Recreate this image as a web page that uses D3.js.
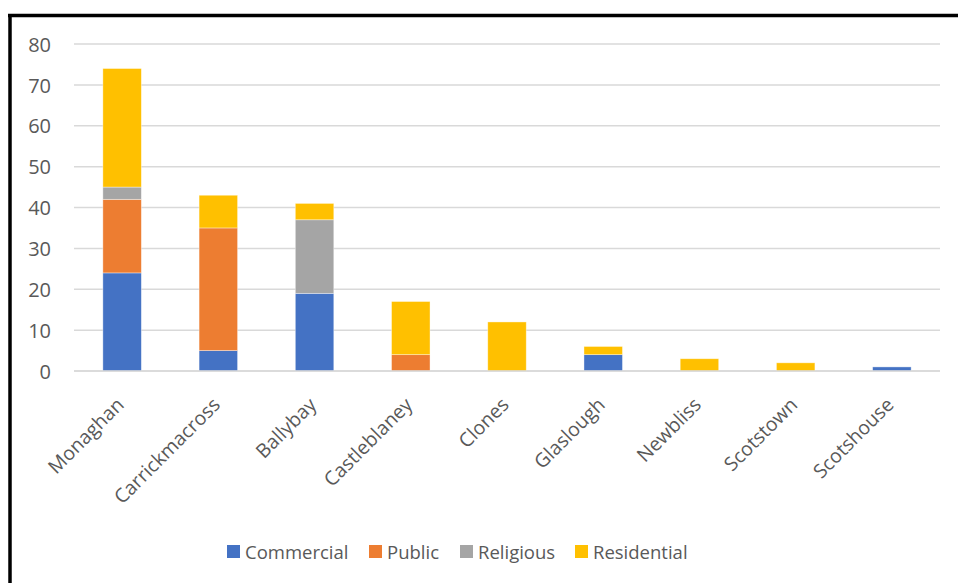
<!DOCTYPE html>
<html>
<head>
<meta charset="utf-8">
<script src="https://cdn.jsdelivr.net/npm/d3@7"></script>
<style>
  html, body { margin: 0; padding: 0; background: #fff; }
  svg { display: block; }
</style>
</head>
<body>
<svg id="chart" width="958" height="583"></svg>
<script>
// Towns and building counts by use type
const towns = ["Monaghan", "Carrickmacross", "Ballybay", "Castleblaney", "Clones",
               "Glaslough", "Newbliss", "Scotstown", "Scotshouse"];
const commercial  = [24, 5, 19, 0, 0, 4, 0, 0, 1];
const publicUse   = [18, 30, 0, 4, 0, 0, 0, 0, 0];
const religious   = [3, 0, 18, 0, 0, 0, 0, 0, 0];
const residential = [29, 8, 4, 13, 12, 2, 3, 2, 0];
const seriesNames = ["Commercial", "Public", "Religious", "Residential"];
const seriesColors = ["#4472C4", "#ED7D31", "#A5A5A5", "#FFC000"];
const yTicks = [0, 10, 20, 30, 40, 50, 60, 70, 80];

const rows = towns.map((t, i) => ({
  town: t,
  Commercial: commercial[i],
  Public: publicUse[i],
  Religious: religious[i],
  Residential: residential[i]
}));

const svg = d3.select("#chart");
const font = "'Open Sans', 'Noto Sans', sans-serif";
const textColor = "#595959";

const plot = { left: 74, right: 940, top: 44, bottom: 371 };

// Frame lines (top and left edges)
svg.append("line").attr("x1", 8).attr("x2", 958).attr("y1", 15.5).attr("y2", 15.5)
  .attr("stroke", "#000").attr("stroke-width", 3.5);
svg.append("line").attr("x1", 10).attr("x2", 10).attr("y1", 14).attr("y2", 583)
  .attr("stroke", "#000").attr("stroke-width", 3.5);

const x = d3.scaleBand().domain(towns).range([plot.left, plot.right]).paddingInner(0.6).paddingOuter(0.3);
const y = d3.scaleLinear().domain([0, 80]).range([plot.bottom, plot.top]);

// Gridlines
svg.append("g").selectAll("line").data(yTicks).join("line")
  .attr("x1", plot.left).attr("x2", plot.right)
  .attr("y1", d => y(d)).attr("y2", d => y(d))
  .attr("stroke", "#d9d9d9").attr("stroke-width", 1.5);

// Y axis labels
const yAxis = d3.axisLeft(y).tickValues(yTicks).tickSize(0).tickPadding(0);
const gy = svg.append("g").attr("transform", `translate(${plot.left - 23},0)`).call(yAxis);
gy.select(".domain").remove();
gy.selectAll("text").attr("font-family", font).attr("font-size", 20)
  .attr("fill", textColor).attr("text-anchor", "end").attr("dy", "0.36em");

// Stacked bars
const stack = d3.stack().keys(seriesNames)(rows);
const color = d3.scaleOrdinal().domain(seriesNames).range(seriesColors);
svg.append("g").selectAll("g").data(stack).join("g")
  .attr("fill", d => color(d.key))
  .selectAll("rect").data(d => d.filter(p => p[1] - p[0] > 0)).join("rect")
  .attr("x", d => x(d.data.town))
  .attr("width", x.bandwidth())
  .attr("y", d => y(d[1]))
  .attr("height", d => y(d[0]) - y(d[1]))
  .attr("stroke", "#fff").attr("stroke-opacity", 0.5).attr("stroke-width", 0.75);

// Baseline
svg.append("line").attr("x1", plot.left).attr("x2", plot.right)
  .attr("y1", y(0)).attr("y2", y(0)).attr("stroke", "#d9d9d9").attr("stroke-width", 1.5);

// Category labels, rotated
const xAxis = d3.axisBottom(x).tickSize(0).tickPadding(0);
const gx = svg.append("g").attr("transform", `translate(0,${plot.bottom})`).call(xAxis);
gx.select(".domain").remove();
gx.selectAll("text")
  .attr("font-family", font).attr("font-size", 19.5).attr("fill", textColor)
  .attr("text-anchor", "end")
  .attr("dy", 0).attr("y", 0)
  .attr("transform", "translate(3,35) rotate(-45)");

// Legend
const legendItems = [
  { name: "Commercial", x: 227 },
  { name: "Public", x: 369 },
  { name: "Religious", x: 460 },
  { name: "Residential", x: 575 }
];
const lg = svg.append("g").selectAll("g").data(legendItems).join("g")
  .attr("transform", d => `translate(${d.x},545)`);
lg.append("rect").attr("width", 13).attr("height", 13).attr("fill", d => color(d.name));
lg.append("text").attr("x", 18).attr("y", 14)
  .attr("font-family", font).attr("font-size", 18.5).attr("fill", textColor)
  .text(d => d.name);
</script>
</body>
</html>
